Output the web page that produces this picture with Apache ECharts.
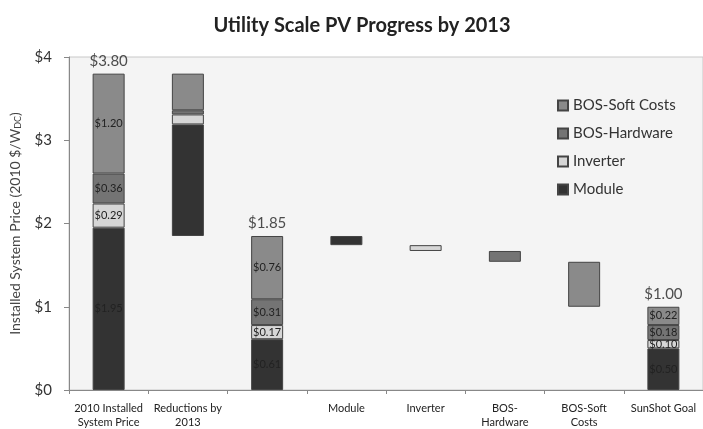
<!DOCTYPE html>
<html>
<head>
<meta charset="utf-8">
<script src="https://cdn.jsdelivr.net/npm/echarts@6/dist/echarts.min.js"></script>
<style>
  html, body { margin: 0; padding: 0; background: #fff; }
  #chart { width: 703px; height: 429px; }
</style>
</head>
<body>
<div id="chart"></div>
<script>
// 数据
const categories = ['2010 Installed\nSystem Price', 'Reductions by\n2013', '', 'Module', 'Inverter', 'BOS-\nHardware', 'BOS-Soft\nCosts', 'SunShot Goal'];
const baseValues = [0, 1.85, 0, 1.74, 1.67, 1.54, 1.00, 0];
const moduleValues = [1.95, 1.34, 0.61, 0.11, '-', '-', '-', 0.50];
const inverterValues = [0.29, 0.12, 0.17, '-', 0.07, '-', '-', 0.10];
const hardwareValues = [0.36, 0.05, 0.31, '-', '-', 0.13, '-', 0.18];
const softValues = [1.20, 0.44, 0.76, '-', '-', '-', 0.54, 0.22];
const totalValues = [[0, 3.80], [2, 1.85], [7, 1.00]];
const labelledCats = [0, 2, 7];
const yTicks = [0, 1, 2, 3, 4];

const FONT = 'Lato, "Open Sans", sans-serif';

const segLabel = {
    show: true,
    position: 'inside',
    fontFamily: FONT,
    fontSize: 11,
    color: '#222',
    textBorderWidth: 0,
    formatter: p => labelledCats.indexOf(p.dataIndex) >= 0 ? '$' + Number(p.value).toFixed(2) : ''
};

const makeSeg = (name, data, color) => ({
    name,
    type: 'bar',
    stack: 'total',
    barWidth: 32,
    data,
    itemStyle: { color, borderColor: '#444', borderWidth: 1 },
    label: segLabel,
    emphasis: { disabled: true }
});

const chart = echarts.init(document.getElementById('chart'));
chart.setOption({
    animation: false,
    backgroundColor: '#fff',
    title: {
        text: 'Utility Scale PV Progress by 2013',
        left: 357,
        textAlign: 'center',
        top: 11,
        textStyle: { fontFamily: FONT, fontSize: 20, fontWeight: 'bold', color: '#222' }
    },
    legend: {
        orient: 'vertical',
        left: 552,
        top: 93,
        icon: 'rect',
        itemWidth: 10,
        itemHeight: 10,
        itemGap: 13,
        data: ['BOS-Soft Costs', 'BOS-Hardware', 'Inverter', 'Module'],
        textStyle: { fontFamily: FONT, fontSize: 15, color: '#333' }
    },
    grid: {
        left: 69,
        top: 57,
        width: 638,
        height: 335,
        show: true,
        backgroundColor: '#f4f4f4',
        borderColor: '#c8c8c8',
        borderWidth: 1
    },
    xAxis: {
        type: 'category',
        data: categories,
        axisLine: { lineStyle: { color: '#888' } },
        axisTick: { show: true, length: 4, lineStyle: { color: '#888' } },
        axisLabel: {
            interval: 0,
            margin: 11,
            fontFamily: FONT,
            fontSize: 11,
            lineHeight: 14,
            color: '#222'
        }
    },
    yAxis: {
        type: 'value',
        min: yTicks[0],
        max: yTicks[yTicks.length - 1],
        interval: 1,
        name: 'Installed System Price (2010 $/W{sub|DC})',
        nameLocation: 'middle',
        nameGap: 46,
        nameTextStyle: {
            fontFamily: FONT,
            fontSize: 14,
            color: '#444',
            rich: { sub: { fontFamily: FONT, fontSize: 9, color: '#444', verticalAlign: 'bottom', padding: [6, 0, 0, 0] } }
        },
        axisLine: { show: true, lineStyle: { color: '#888' } },
        axisTick: { show: true, length: 5, lineStyle: { color: '#888' } },
        splitLine: { show: false },
        axisLabel: {
            margin: 17,
            fontFamily: FONT,
            fontSize: 15,
            color: '#333',
            formatter: v => '$' + v
        }
    },
    series: [
        {
            name: 'base',
            type: 'bar',
            stack: 'total',
            barWidth: 32,
            data: baseValues,
            itemStyle: { color: 'transparent' },
            silent: true
        },
        makeSeg('Module', moduleValues, '#333333'),
        makeSeg('Inverter', inverterValues, '#d6d6d6'),
        makeSeg('BOS-Hardware', hardwareValues, '#747474'),
        makeSeg('BOS-Soft Costs', softValues, '#8a8a8a'),
        {
            name: 'total',
            type: 'scatter',
            symbolSize: 0,
            data: totalValues,
            label: {
                show: true,
                position: 'top',
                distance: 5,
                fontFamily: FONT,
                fontSize: 15,
                color: '#222',
                formatter: p => '$' + p.value[1].toFixed(2)
            },
            silent: true
        }
    ]
});
</script>
</body>
</html>
